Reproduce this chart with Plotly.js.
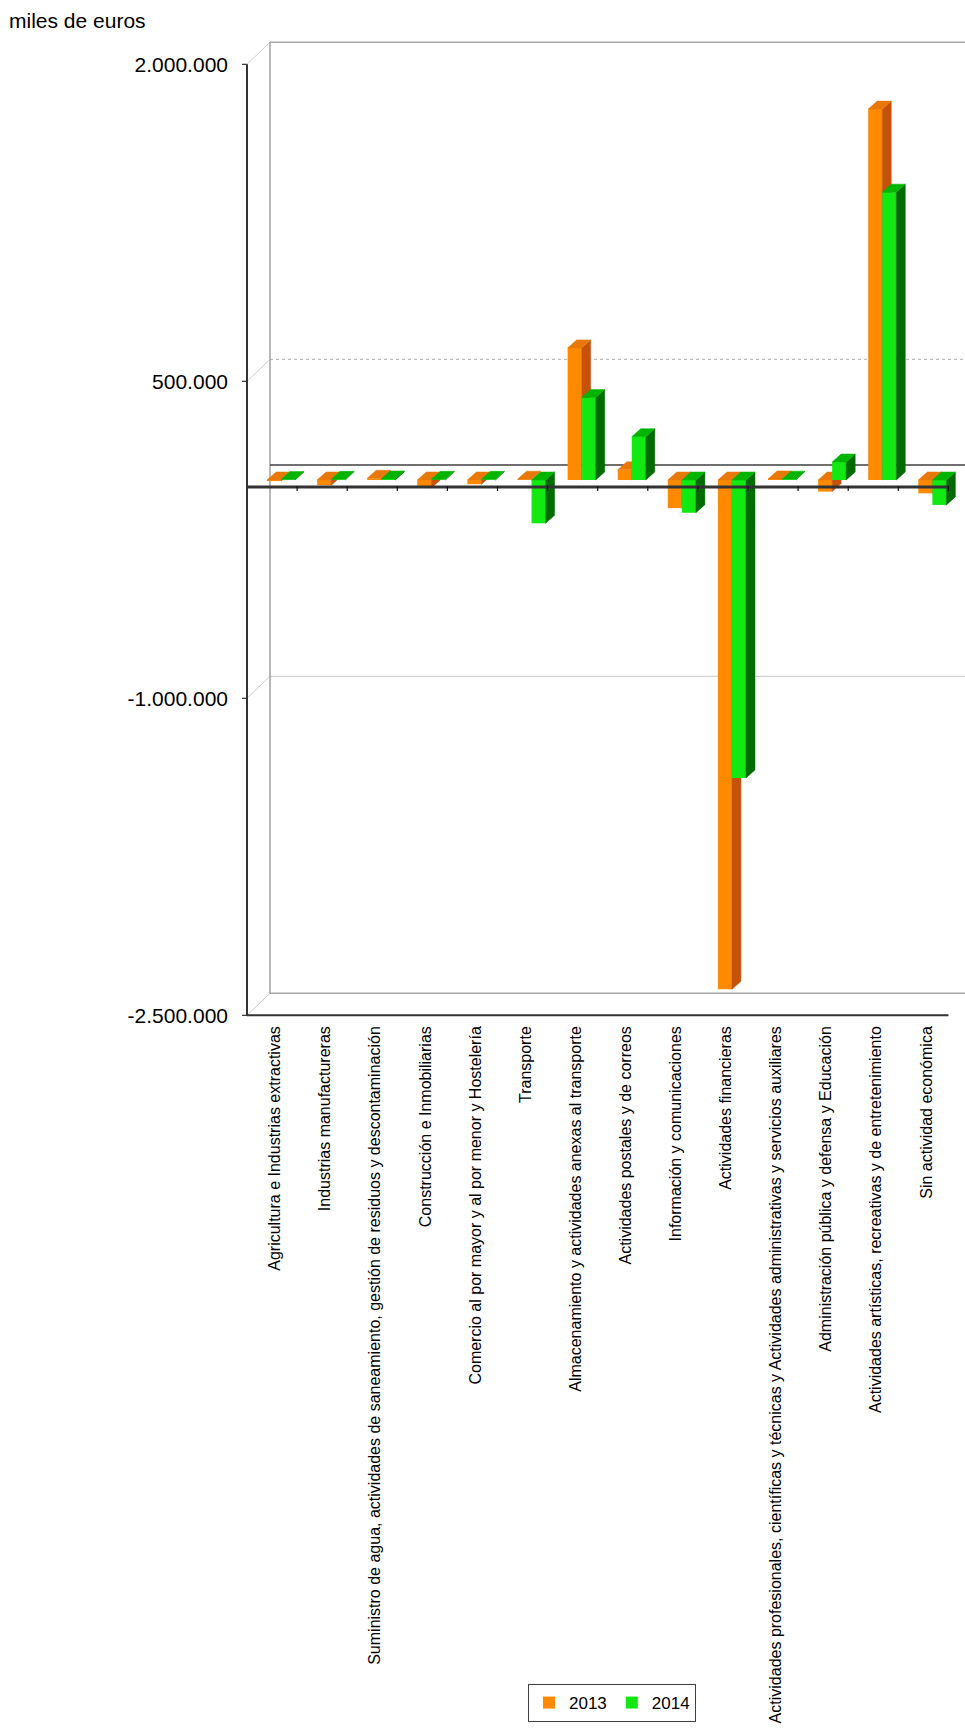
<!DOCTYPE html>
<html><head><meta charset="utf-8">
<script src="https://cdn.plot.ly/plotly-3.0.1.min.js"></script>
<style>html,body{margin:0;padding:0;background:#fff;}#chart{width:965px;height:1728px;}</style>
</head><body><div id="chart"></div>
<script>
// ---- DATA (miles de euros) ----
const categories = [
  "Agricultura e Industrias extractivas",
  "Industrias manufactureras",
  "Suministro de agua, actividades de saneamiento, gestión de residuos y descontaminación",
  "Construcción e Inmobiliarias",
  "Comercio al por mayor y al por menor y Hostelería",
  "Transporte",
  "Almacenamiento y actividades anexas al transporte",
  "Actividades postales y de correos",
  "Información y comunicaciones",
  "Actividades financieras",
  "Actividades profesionales, científicas y técnicas y Actividades administrativas y servicios auxiliares",
  "Administración pública y defensa y Educación",
  "Actividades artísticas, recreativas y de entretenimiento",
  "Sin actividad económica"
];
const values2013 = [-5000, -25000, 8000, -38000, -20000, 4000, 625000, 48000, -133000, -2410000, 5000, -55000, 1755000, -63000];
const values2014 = [2000, 3000, 5000, 3000, 3000, -205000, 390000, 205000, -155000, -1410000, 4000, 85000, 1362000, -118000];
const seriesNames = ["2013", "2014"];
const yTickValues = [2000000, 500000, -1000000, -2500000];
const yTickLabels = ["2.000.000", "500.000", "-1.000.000", "-2.500.000"];
const yUnitLabel = "miles de euros";

// ---- LAYOUT GEOMETRY ----
const W = 965, H = 1728;
const M = {l: 240, r: 0, t: 35, b: 708};
const xRange = [-0.8194, 13.6517];
const yRange = [-2555245, 2105711];
const plotW = W - M.l - M.r, plotH = H - M.t - M.b;
const pxX = plotW / (xRange[1] - xRange[0]);
const pxY = plotH / (yRange[1] - yRange[0]);
const dX = p => p / pxX;          // pixels -> category units
const dY = p => -p / pxY;         // pixels (down positive) -> value units

const FRONT = {dx: dX(-9), dy: dY(7)};
const BACK = {dx: dX(14), dy: dY(-15)};
const DEPTH = {dx: dX(9), dy: dY(-8)};
const BAR_W = 0.28;

const FONT = "Liberation Sans, Arial, Helvetica, sans-serif";
const COL = {
  o: {front: "#FF8A00", side: "#C4520A", top: "#E8780A"},
  g: {front: "#12E812", side: "#006B00", top: "#00B400"}
};
const idx = categories.map((_, i) => i);
const n = categories.length;

function faces(vals, off) {
  const side = {x: [], y: []}, top = {x: [], y: []};
  vals.forEach((v, i) => {
    const x0 = i + off, x1 = x0 + BAR_W;
    side.x.push(x1, x1 + DEPTH.dx, x1 + DEPTH.dx, x1, x1, null);
    side.y.push(0, DEPTH.dy, v + DEPTH.dy, v, 0, null);
    const t = Math.max(v, 0);
    top.x.push(x0, x0 + DEPTH.dx, x1 + DEPTH.dx, x1, x0, null);
    top.y.push(t, t + DEPTH.dy, t + DEPTH.dy, t, t, null);
  });
  return {side, top};
}
function faceTrace(pts, color, xa, ya) {
  return {type: "scatter", mode: "lines", x: pts.x, y: pts.y, fill: "toself",
    fillcolor: color, line: {color: color, width: 0.5}, xaxis: xa, yaxis: ya,
    showlegend: false, hoverinfo: "skip"};
}
const f13 = faces(values2013, -BAR_W);
const f14 = faces(values2014, 0);

const traces = [
  {type: "bar", name: seriesNames[0], x: idx, y: values2013, width: BAR_W, offset: -BAR_W,
   marker: {color: COL.o.front, line: {width: 0}}, xaxis: "x", yaxis: "y"},
  faceTrace(f13.side, COL.o.side, "x", "y"),
  faceTrace(f13.top, COL.o.top, "x", "y"),
  {type: "bar", name: seriesNames[1], x: idx, y: values2014, width: BAR_W, offset: 0,
   marker: {color: COL.g.front, line: {width: 0}}, xaxis: "x2", yaxis: "y2"},
  faceTrace(f14.side, COL.g.side, "x2", "y2"),
  faceTrace(f14.top, COL.g.top, "x2", "y2")
];

// ---- 3D frame shapes (derived from axes) ----
const fl = -0.5 + FRONT.dx, fr = n - 0.5 + FRONT.dx;
const bl = -0.5 + BACK.dx, br = xRange[1] + 1;
const yTop = Math.max(...yTickValues), yBot = Math.min(...yTickValues);
const shapes = [];
function line(x0, y0, x1, y1, color, width, layer, dash) {
  shapes.push({type: "line", xref: "x", yref: "y", x0, y0, x1, y1, layer: layer || "below",
    line: {color, width, dash: dash || "solid"}});
}
yTickValues.forEach((g, i) => {
  const edge = (g === yTop || g === yBot);
  const dotted = (i === 1);
  line(bl, g + BACK.dy, br, g + BACK.dy, edge ? "#a8a8a8" : (dotted ? "#bdbdbd" : "#d4d4d4"),
       edge ? 1.5 : 1.3, "below", dotted ? "dot" : "solid");
  line(fl, g + FRONT.dy, bl, g + BACK.dy, "#cfcfcf", 1, "below");
});
line(bl, yTop + BACK.dy, bl, yBot + BACK.dy, "#a0a0a0", 1.5, "below");
line(bl, BACK.dy, br, BACK.dy, "#404040", 1.5, "below");
// front plane
line(fl, FRONT.dy, fr, FRONT.dy, "#333333", 3, "above");
for (let k = 0; k <= n; k++) {
  const x = k - 0.5 + FRONT.dx;
  line(x, FRONT.dy + dY(-1), x, FRONT.dy + dY(4), "#111111", 1.2, "above");
}
line(fl, yBot + FRONT.dy, fr, yBot + FRONT.dy, "#333333", 2, "above");
line(fl, yTop + FRONT.dy, fl, yBot + FRONT.dy, "#333333", 2, "above");
yTickValues.forEach(g => line(fl + dX(-5), g + FRONT.dy, fl, g + FRONT.dy, "#333333", 1.2, "above"));

const layout = {
  width: W, height: H, margin: M,
  paper_bgcolor: "#ffffff", plot_bgcolor: "#ffffff",
  font: {family: FONT, color: "#000000"},
  showlegend: true,
  title: {text: yUnitLabel, font: {size: 21, family: FONT, color: "#000"},
    x: 9 / W, xref: "container", xanchor: "left", y: 1 - 13 / H, yref: "container", yanchor: "top"},
  xaxis: {range: xRange, tickvals: idx, ticktext: categories, tickangle: -90, ticks: "",
    showgrid: false, zeroline: false, showline: false, automargin: false,
    ticklabelshift: -6, ticklabelstandoff: 2, tickfont: {size: 16, family: FONT, color: "#000"}},
  yaxis: {range: yRange, tickvals: yTickValues.map(g => g + FRONT.dy), ticktext: yTickLabels,
    ticks: "", showgrid: false, zeroline: false, showline: false, automargin: false,
    ticklabelstandoff: 11, tickfont: {size: 21, family: FONT, color: "#000"}},
  xaxis2: {range: xRange, overlaying: "x", anchor: "y2", visible: false},
  yaxis2: {range: yRange, overlaying: "y", anchor: "x2", visible: false},
  legend: {orientation: "h", x: (528 - M.l) / plotW, y: -(1684 - (H - M.b)) / plotH,
    xanchor: "left", yanchor: "top", bordercolor: "#404040", borderwidth: 1,
    bgcolor: "#ffffff", font: {size: 17, family: FONT, color: "#000"}, itemwidth: 30,
    traceorder: "normal"},
  shapes: shapes,
  bargap: 0.4
};
Plotly.newPlot("chart", traces, layout, {staticPlot: true, displayModeBar: false});
</script>
</body></html>
